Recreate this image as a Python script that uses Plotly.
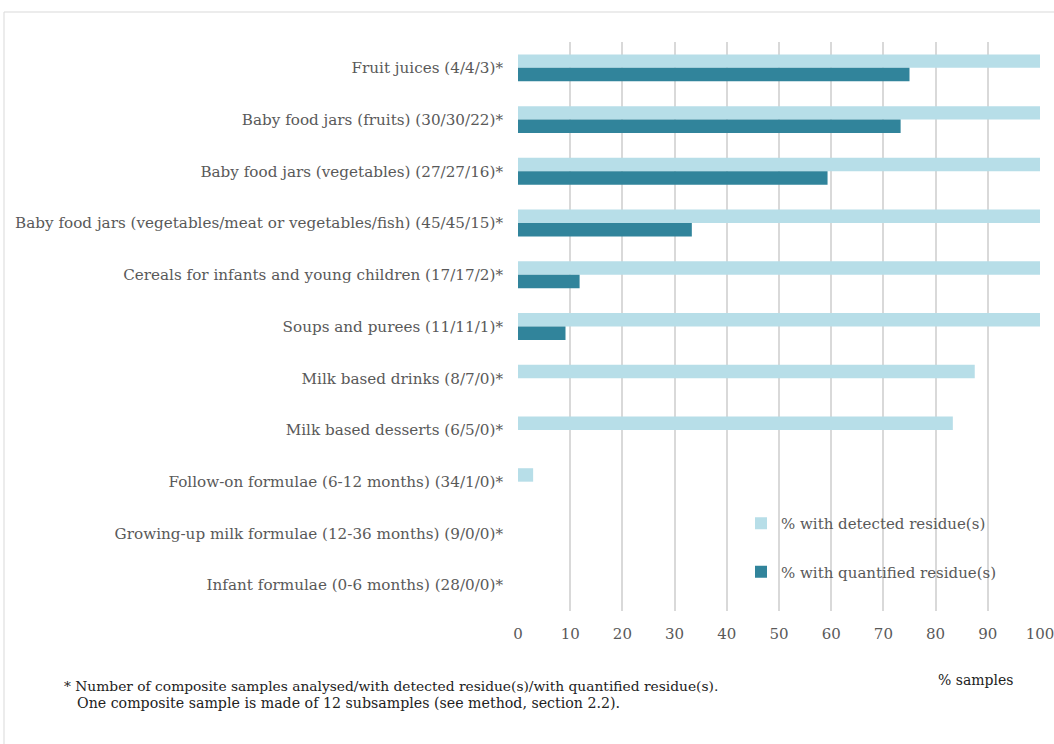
import plotly.graph_objects as go

categories = [
    "Fruit juices (4/4/3)*",
    "Baby food jars (fruits) (30/30/22)*",
    "Baby food jars (vegetables) (27/27/16)*",
    "Baby food jars (vegetables/meat or vegetables/fish) (45/45/15)*",
    "Cereals for infants and young children (17/17/2)*",
    "Soups and purees (11/11/1)*",
    "Milk based drinks (8/7/0)*",
    "Milk based desserts (6/5/0)*",
    "Follow-on formulae (6-12 months) (34/1/0)*",
    "Growing-up milk formulae (12-36 months) (9/0/0)*",
    "Infant formulae (0-6 months) (28/0/0)*",
]
detected = [100, 100, 100, 100, 100, 100, 87.5, 83.3, 2.9, 0, 0]
quantified = [75, 73.3, 59.3, 33.3, 11.8, 9.1, 0, 0, 0, 0, 0]
x_ticks = [0, 10, 20, 30, 40, 50, 60, 70, 80, 90, 100]

W, H = 1054, 744
L, R, T, B = 518, 14, 42, 133
FONT = "DejaVu Serif"
GREY = "#595959"

def px_x(px):
    return (px - L) / (W - L - R)

def px_y(py):
    return (H - B - py) / (H - T - B)

fig = go.Figure()
fig.add_trace(go.Bar(
    y=categories, x=detected, orientation="h",
    name="% with detected residue(s)",
    marker=dict(color="#B7DEE8", line=dict(width=0)),
    legendgroup="a",
))
fig.add_trace(go.Bar(
    y=categories, x=quantified, orientation="h",
    name="% with quantified residue(s)",
    marker=dict(color="#31849B", line=dict(width=0)),
    legendgroup="b",
))

fig.update_layout(
    width=W, height=H,
    margin=dict(l=L, r=R, t=T, b=B, pad=0, autoexpand=False),
    paper_bgcolor="white", plot_bgcolor="white",
    barmode="group", bargap=0.48, bargroupgap=0,
    font=dict(family=FONT, size=15, color=GREY),
    showlegend=True,
    legend=dict(
        x=px_x(741), y=px_y(507), xanchor="left", yanchor="top",
        bgcolor="rgba(0,0,0,0)", traceorder="grouped", tracegroupgap=26,
        font=dict(family=FONT, size=15, color=GREY),
        itemwidth=30,
    ),
    xaxis=dict(
        range=[0, 100], tickvals=x_ticks, showgrid=True,
        gridcolor="#D9D9D9", gridwidth=2, zeroline=False,
        showline=False, ticks="", ticklabelstandoff=12,
        ticklabeloverflow="allow", automargin=False,
        tickfont=dict(family=FONT, size=15, color=GREY),
        fixedrange=True,
    ),
    yaxis=dict(
        autorange="reversed", showgrid=False, zeroline=False,
        showline=False, ticks="", ticklabelstandoff=14,
        automargin=False,
        tickfont=dict(family=FONT, size=15.2, color=GREY),
        fixedrange=True,
    ),
    shapes=[
        dict(type="line", xref="paper", yref="paper",
             x0=px_x(4), x1=px_x(1060), y0=px_y(12), y1=px_y(12),
             line=dict(color="#D9D9D9", width=1)),
        dict(type="line", xref="paper", yref="paper",
             x0=px_x(4), x1=px_x(4), y0=px_y(12), y1=px_y(750),
             line=dict(color="#D9D9D9", width=1)),
    ],
    annotations=[
        dict(text="% samples", xref="paper", yref="paper",
             x=px_x(975), y=px_y(680), xanchor="center", yanchor="middle",
             showarrow=False, font=dict(family=FONT, size=14, color="#222222")),
        dict(text="* Number of composite samples analysed/with detected residue(s)/with quantified residue(s).",
             xref="paper", yref="paper",
             x=px_x(62), y=px_y(686), xanchor="left", yanchor="middle",
             showarrow=False, font=dict(family=FONT, size=13.8, color="#222222")),
        dict(text="One composite sample is made of 12 subsamples (see method, section 2.2).",
             xref="paper", yref="paper",
             x=px_x(75), y=px_y(703), xanchor="left", yanchor="middle",
             showarrow=False, font=dict(family=FONT, size=14.2, color="#222222")),
    ],
)

fig.write_html(
    "out.html",
    config={"displayModeBar": False},
    post_script="document.body.style.margin='0';document.body.style.overflow='hidden';",
)
